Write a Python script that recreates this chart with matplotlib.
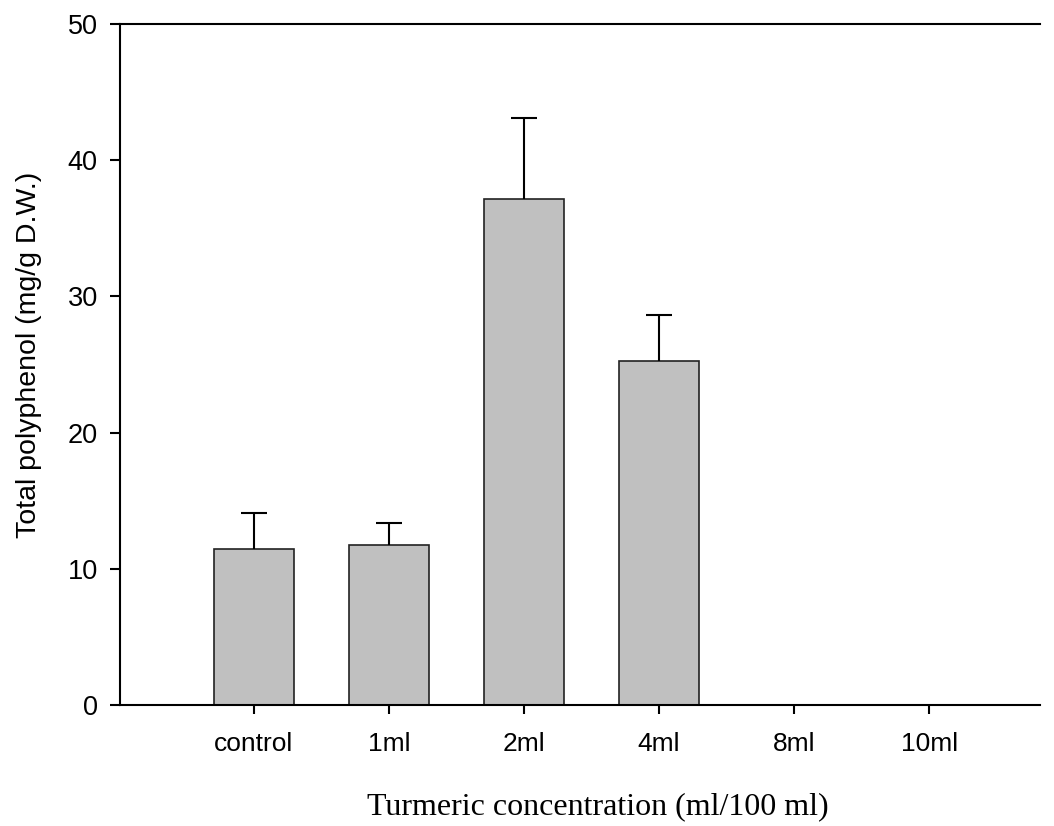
import matplotlib
matplotlib.use("Agg")
import matplotlib.pyplot as plt

# Total polyphenol by turmeric dose (mean + SD)
labels = ["control", "1ml", "2ml", "4ml", "8ml", "10ml"]
means = [11.45, 11.77, 37.15, 25.26, 0, 0]
errors = [2.65, 1.61, 5.95, 3.37, 0, 0]

fig = plt.figure(figsize=(10.54, 8.26), dpi=100)
ax = fig.add_axes([0.1139, 0.1465, 0.8729, 0.8244])

x = list(range(len(labels)))
ax.bar(x, means, width=0.595, color="#c0c0c0", edgecolor="#222222", linewidth=1.2, zorder=2)

# upper error bars only, for the groups that have them
ex = [i for i in x if errors[i] > 0]
ey = [means[i] for i in ex]
eu = [errors[i] for i in ex]
eb = ax.errorbar(ex, ey, yerr=[[0] * len(ex), eu], fmt="none", ecolor="black",
                 elinewidth=1.5, capsize=9.5, capthick=1.5, zorder=3)
eb[1][0].set_visible(False)

ax.set_xlim(-0.99, 5.82)
ax.set_ylim(0, 50)
ax.set_yticks([0, 10, 20, 30, 40, 50])
ax.set_xticks(x)
ax.set_xticklabels(labels, family="Liberation Sans", fontsize=19)
for t in ax.get_yticklabels():
    t.set_family("Liberation Sans")
    t.set_fontsize(19.5)

ax.spines["right"].set_visible(False)
for s in ("left", "bottom", "top"):
    ax.spines[s].set_linewidth(1.5)
ax.tick_params(axis="y", direction="out", length=7, width=1.5, pad=9)
ax.tick_params(axis="x", direction="out", length=6.5, width=1.5, pad=13)

ax.set_ylabel("Total polyphenol (mg/g D.W.)", family="Liberation Sans", fontsize=20.5)
ax.yaxis.set_label_coords(-0.085, 0.514)
ax.set_xlabel("Turmeric concentration (ml/100 ml)", family="Liberation Serif", fontsize=23)
ax.xaxis.set_label_coords(0.519, -0.128)

fig.savefig("out.png", dpi=100)
